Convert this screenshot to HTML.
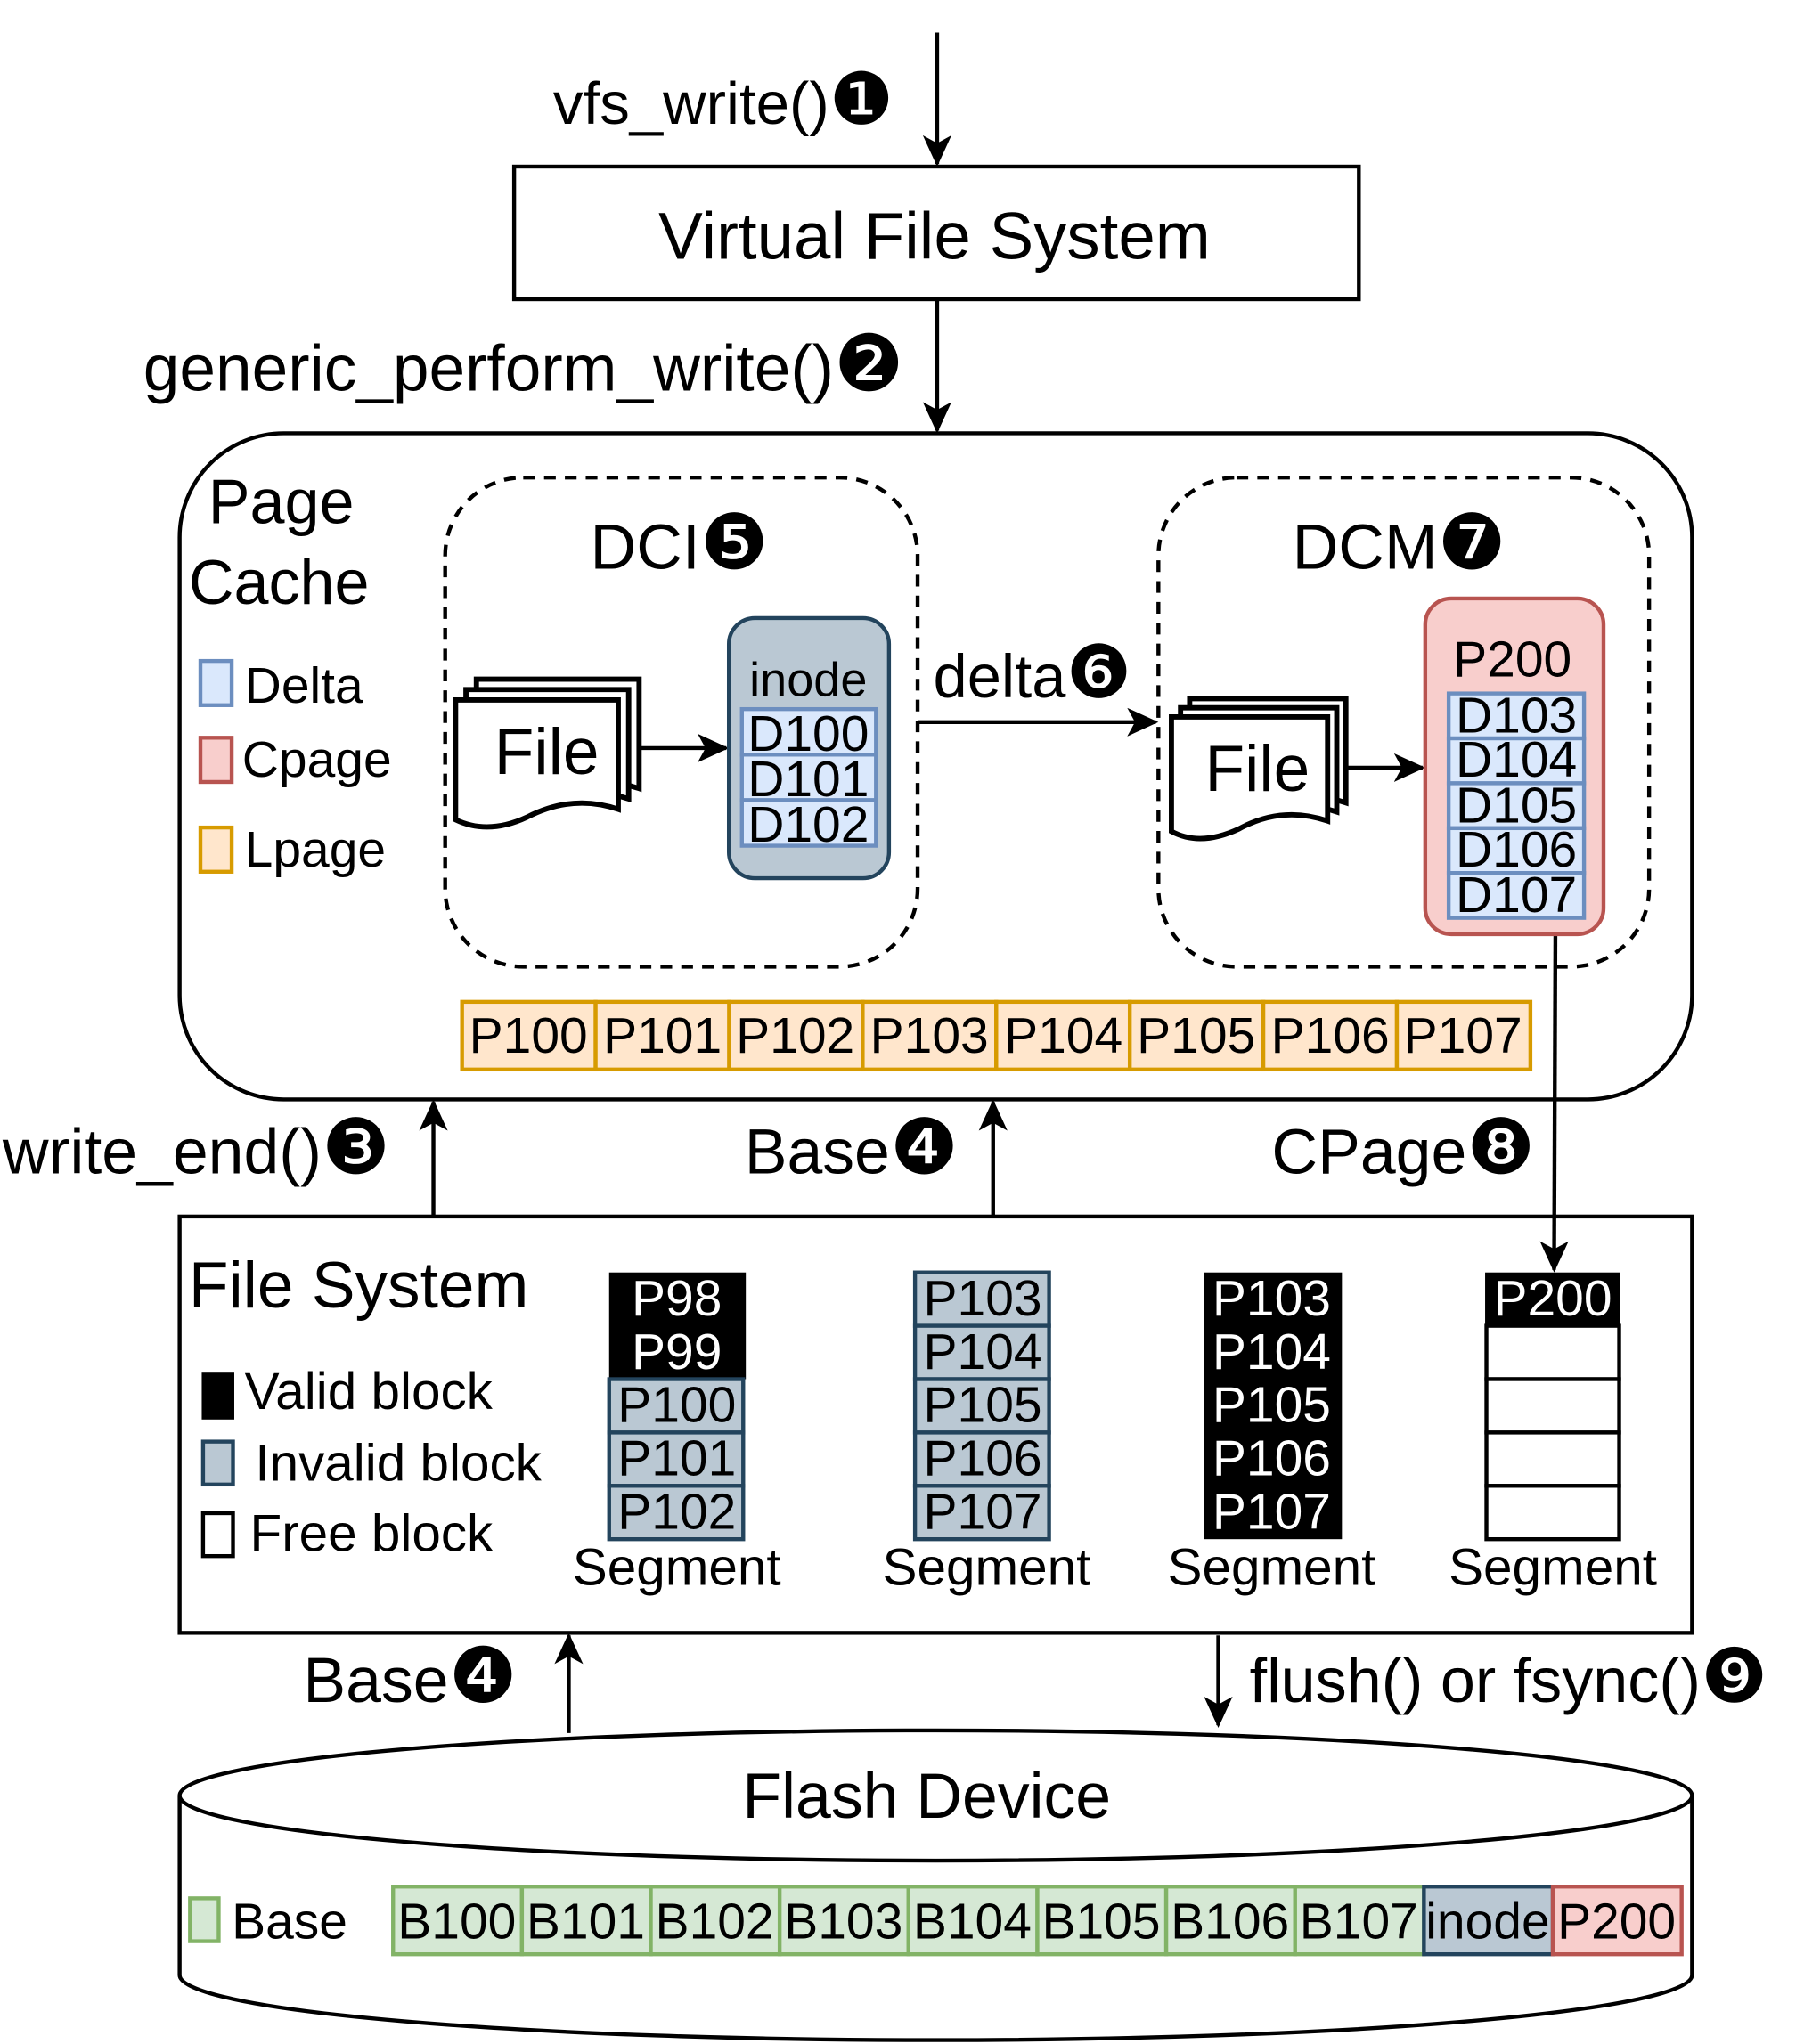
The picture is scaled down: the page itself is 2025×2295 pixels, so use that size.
<!DOCTYPE html>
<html><head><meta charset="utf-8"><style>
html,body{margin:0;padding:0;background:#fff;}
svg{display:block;}
text{font-family:"Liberation Sans","DejaVu Sans",sans-serif;fill:#000;}
.c{font-size:1.2em;font-family:"DejaVu Sans",sans-serif;}
</style></head><body>
<svg width="2025" height="2295" viewBox="0 0 1386 1571" preserveAspectRatio="none" xmlns="http://www.w3.org/2000/svg">
<defs>
<marker id="ah2" markerWidth="24" markerHeight="24" refX="22" refY="12" orient="auto" markerUnits="userSpaceOnUse" viewBox="0 0 24 24">
<path d="M0,1 L24,12 L0,23 L6,12 Z" fill="#000"/></marker>
</defs>
<g stroke="#000" stroke-width="3" fill="none">
<line x1="720" y1="25" x2="720" y2="126" marker-end="url(#ah2)"/>
<rect x="395" y="128" width="649" height="102" />
<line x1="720" y1="230" x2="720" y2="331" marker-end="url(#ah2)"/>
<rect x="138" y="333" width="1162" height="512" rx="80"/>
<rect x="342" y="367" width="363" height="376" rx="60" stroke-dasharray="9,7"/>
<rect x="890" y="367" width="377" height="376" rx="60" stroke-dasharray="9,7"/>
<line x1="490" y1="575" x2="558" y2="575" marker-end="url(#ah2)"/>
<line x1="705" y1="555" x2="888" y2="555" marker-end="url(#ah2)"/>
<line x1="1035" y1="590" x2="1093" y2="590" marker-end="url(#ah2)"/>
<path d="M1195,718 L1194,976" marker-end="url(#ah2)"/>
<line x1="333" y1="935" x2="333" y2="847" marker-end="url(#ah2)"/>
<line x1="763" y1="935" x2="763" y2="847" marker-end="url(#ah2)"/>
<rect x="138" y="935" width="1162" height="320"/>
<line x1="437" y1="1332" x2="437" y2="1257" marker-end="url(#ah2)"/>
<line x1="936" y1="1257" x2="936" y2="1326" marker-end="url(#ah2)"/>
<path d="M138,1380 L138,1518 A581,50 0 0 0 1300,1518 L1300,1380" />
<ellipse cx="719" cy="1380" rx="581" ry="50" fill="#fff"/>
</g>
<g stroke="#000" stroke-width="4" fill="#fff">
<path d="M366,522 h125 v84 q-35,-12 -70,6 q-30,14 -55,2 z"/>
<path d="M358,530 h125 v84 q-35,-12 -70,6 q-30,14 -55,2 z"/>
<path d="M350,538 h125 v84 q-35,-12 -70,6 q-30,14 -55,2 z"/>
<path d="M914,537 h120 v80 q-35,-12 -68,6 q-30,14 -52,2 z"/>
<path d="M907,544 h120 v80 q-35,-12 -68,6 q-30,14 -52,2 z"/>
<path d="M900,551 h120 v80 q-35,-12 -68,6 q-30,14 -52,2 z"/>
</g>
<text x="420" y="595" font-size="50" text-anchor="middle">File</text>
<text x="966" y="608" font-size="50" text-anchor="middle">File</text>
<rect x="560" y="475" width="123" height="200" rx="20" fill="#bac8d3" stroke="#23445d" stroke-width="3"/>
<text x="621" y="535" font-size="37" text-anchor="middle">inode</text>
<g stroke="#6c8ebf" stroke-width="3" fill="#dae8fc">
<rect x="570" y="545" width="103" height="35"/><rect x="570" y="580" width="103" height="35"/><rect x="570" y="615" width="103" height="35"/>
</g>
<g font-size="39" text-anchor="middle"><text x="621" y="577">D100</text><text x="621" y="612">D101</text><text x="621" y="647">D102</text></g>
<rect x="1095" y="460" width="137" height="258" rx="20" fill="#f8cecc" stroke="#b85450" stroke-width="3"/>
<text x="1162" y="520" font-size="39" text-anchor="middle">P200</text>
<g stroke="#6c8ebf" stroke-width="3" fill="#dae8fc">
<rect x="1113" y="533" width="104" height="34.5"/><rect x="1113" y="567.5" width="104" height="34.5"/><rect x="1113" y="602" width="104" height="34.5"/><rect x="1113" y="636.5" width="104" height="34.5"/><rect x="1113" y="671" width="104" height="34.5"/>
</g>
<g font-size="39" text-anchor="middle"><text x="1165" y="563">D103</text><text x="1165" y="597">D104</text><text x="1165" y="632">D105</text><text x="1165" y="666">D106</text><text x="1165" y="701">D107</text></g>
<g stroke="#d79b00" stroke-width="3" fill="#ffe6cc">
<rect x="355" y="770" width="102.6" height="52"/><rect x="457.6" y="770" width="102.6" height="52"/><rect x="560.2" y="770" width="102.6" height="52"/><rect x="662.8" y="770" width="102.6" height="52"/><rect x="765.4" y="770" width="102.6" height="52"/><rect x="868" y="770" width="102.6" height="52"/><rect x="970.6" y="770" width="102.6" height="52"/><rect x="1073.2" y="770" width="102.6" height="52"/>
</g>
<g font-size="39" text-anchor="middle"><text x="406" y="809">P100</text><text x="509" y="809">P101</text><text x="611" y="809">P102</text><text x="714" y="809">P103</text><text x="817" y="809">P104</text><text x="919" y="809">P105</text><text x="1022" y="809">P106</text><text x="1124" y="809">P107</text></g>
<text x="425" y="95" font-size="46">vfs_write()<tspan class="c">❶</tspan></text>
<text x="718" y="199" font-size="51" text-anchor="middle">Virtual File System</text>
<text x="110" y="300" font-size="50">generic_perform_write()<tspan class="c">❷</tspan></text>
<text x="160" y="402" font-size="48">Page</text>
<text x="145" y="464" font-size="48">Cache</text>
<rect x="154" y="508" width="24" height="34" fill="#dae8fc" stroke="#6c8ebf" stroke-width="3"/>
<text x="188" y="540" font-size="39">Delta</text>
<rect x="154" y="567" width="24" height="34" fill="#f8cecc" stroke="#b85450" stroke-width="3"/>
<text x="186" y="597" font-size="39">Cpage</text>
<rect x="154" y="636" width="24" height="34" fill="#ffe6cc" stroke="#d79b00" stroke-width="3"/>
<text x="188" y="666" font-size="39">Lpage</text>
<text x="522" y="437" font-size="49" text-anchor="middle">DCI<tspan class="c">❺</tspan></text>
<text x="1075" y="437" font-size="49" text-anchor="middle">DCM<tspan class="c">❼</tspan></text>
<text x="717" y="536" font-size="47">delta<tspan class="c">❻</tspan></text>
<text x="2" y="902" font-size="49">write_end()<tspan class="c">❸</tspan></text>
<text x="572" y="902" font-size="49">Base<tspan class="c">❹</tspan></text>
<text x="977" y="902" font-size="49">CPage<tspan class="c">❽</tspan></text>
<text x="145" y="1005" font-size="50">File System</text>
<rect x="155" y="1055" width="25" height="36" fill="#000"/>
<text x="188" y="1083" font-size="40">Valid block</text>
<rect x="156" y="1108" width="23" height="33" fill="#bac8d3" stroke="#23445d" stroke-width="3"/>
<text x="196" y="1138" font-size="40">Invalid block</text>
<rect x="156" y="1163" width="23" height="33" fill="#fff" stroke="#000" stroke-width="3"/>
<text x="192" y="1192" font-size="40">Free block</text>
<rect x="468" y="978" width="105" height="82" fill="#000"/>
<g font-size="39" text-anchor="middle"><text x="520" y="1011" style="fill:#fff">P98</text><text x="520" y="1052" style="fill:#fff">P99</text></g>
<g stroke="#23445d" stroke-width="3" fill="#bac8d3">
<rect x="468" y="1060" width="103" height="41"/><rect x="468" y="1101" width="103" height="41"/><rect x="468" y="1142" width="103" height="41"/>
<rect x="703" y="978" width="103" height="41"/><rect x="703" y="1019" width="103" height="41"/><rect x="703" y="1060" width="103" height="41"/><rect x="703" y="1101" width="103" height="41"/><rect x="703" y="1142" width="103" height="41"/>
</g>
<g font-size="39" text-anchor="middle"><text x="520" y="1093">P100</text><text x="520" y="1134">P101</text><text x="520" y="1175">P102</text>
<text x="755" y="1011">P103</text><text x="755" y="1052">P104</text><text x="755" y="1093">P105</text><text x="755" y="1134">P106</text><text x="755" y="1175">P107</text></g>
<rect x="925" y="978" width="106" height="205" fill="#000"/>
<g font-size="39" text-anchor="middle"><text x="977" y="1011" style="fill:#fff">P103</text><text x="977" y="1052" style="fill:#fff">P104</text><text x="977" y="1093" style="fill:#fff">P105</text><text x="977" y="1134" style="fill:#fff">P106</text><text x="977" y="1175" style="fill:#fff">P107</text></g>
<rect x="1141" y="978" width="104" height="41" fill="#000"/>
<text x="1193" y="1011" font-size="39" text-anchor="middle" style="fill:#fff">P200</text>
<g stroke="#000" stroke-width="3" fill="#fff">
<rect x="1142" y="1019" width="102" height="41"/><rect x="1142" y="1060" width="102" height="41"/><rect x="1142" y="1101" width="102" height="41"/><rect x="1142" y="1142" width="102" height="41"/>
</g>
<g font-size="40" text-anchor="middle"><text x="520" y="1218">Segment</text><text x="758" y="1218">Segment</text><text x="977" y="1218">Segment</text><text x="1193" y="1218">Segment</text></g>
<text x="233" y="1308" font-size="49">Base<tspan class="c">❹</tspan></text>
<text x="960" y="1308" font-size="48">flush() or fsync()<tspan class="c">❾</tspan></text>
<text x="712" y="1397" font-size="49" text-anchor="middle">Flash Device</text>
<rect x="146" y="1459" width="22" height="33" fill="#d5e8d4" stroke="#82b366" stroke-width="3"/>
<text x="178" y="1490" font-size="39">Base</text>
<g stroke-width="3">
<g fill="#d5e8d4" stroke="#82b366">
<rect x="302" y="1450" width="99" height="52"/><rect x="401" y="1450" width="99" height="52"/><rect x="500" y="1450" width="99" height="52"/><rect x="599" y="1450" width="99" height="52"/><rect x="698" y="1450" width="99" height="52"/><rect x="797" y="1450" width="99" height="52"/><rect x="896" y="1450" width="99" height="52"/><rect x="995" y="1450" width="99" height="52"/>
</g>
<rect x="1094" y="1450" width="99" height="52" fill="#bac8d3" stroke="#23445d"/>
<rect x="1193" y="1450" width="99" height="52" fill="#f8cecc" stroke="#b85450"/>
</g>
<g font-size="39" text-anchor="middle"><text x="351" y="1490">B100</text><text x="450" y="1490">B101</text><text x="549" y="1490">B102</text><text x="648" y="1490">B103</text><text x="747" y="1490">B104</text><text x="846" y="1490">B105</text><text x="945" y="1490">B106</text><text x="1044" y="1490">B107</text><text x="1143" y="1490">inode</text><text x="1242" y="1490">P200</text></g>
</svg>
</body></html>
